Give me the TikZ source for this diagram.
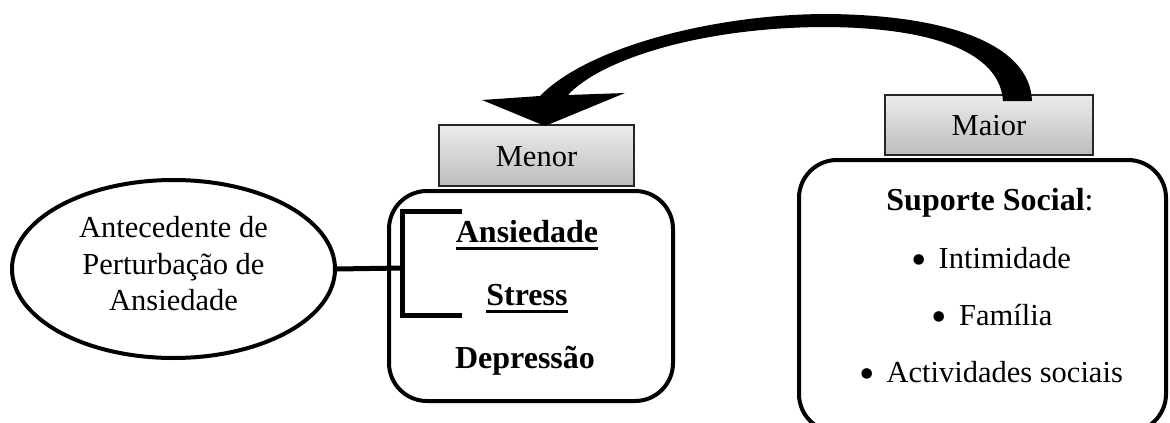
\documentclass[tikz,border=0pt]{standalone}
\usepackage{fontspec}
\setmainfont{Liberation Serif}
\usetikzlibrary{shapes.geometric}
\newcommand{\ulword}[1]{\setbox0\hbox{#1}\leavevmode\rlap{\rule[-7.5pt]{\wd0}{3pt}}\box0}
\newcommand{\bigdot}{{\fontsize{44}{0}\selectfont\raisebox{-6pt}{\textbullet}}\hspace{12pt}}

\begin{document}
\begin{tikzpicture}[x=1pt,y=-1pt]

		\tikzstyle{txt}    = [font=\fontsize{30.5}{36.5}\selectfont, inner sep=0pt, anchor=base]
		\tikzstyle{btxt}   = [font=\fontsize{32}{36.5}\selectfont\bfseries, inner sep=0pt, anchor=base]
		\tikzstyle{bigbox} = [draw, line width=4pt, rounded corners=38pt, inner sep=0pt]
		\tikzstyle{tab}    = [draw=black!85, line width=1.5pt, top color=gray!15, bottom color=gray!52, inner sep=0pt]
		\useasboundingbox (0,0) rectangle (1170,423);

		% boxes
		\node [bigbox, minimum width=284pt, minimum height=210pt](lbox) at (531,296) {};
		\node [bigbox, minimum width=367pt, minimum height=272pt](rbox) at (982.5,296) {};
		\node [tab, minimum width=195pt, minimum height=61pt](menor) at (536.5,155.5) {};
		\node [tab, minimum width=208pt, minimum height=60pt](maior) at (989,125) {};
		\node [ellipse, draw, line width=4pt, minimum width=323pt, minimum height=178pt](ante) at (173.5,269) {};

		% texts
		\node [txt](tmenor) at (536.5,166) {Menor};
		\node [txt](tmaior) at (989,135) {Maior};
		\node [txt, align=center, anchor=center](tante) at (173.5,264) {Antecedente de\\Perturbação de\\Ansiedade};
		\node [btxt](ans) at (527,242) {\ulword{Ansiedade}};
		\node [btxt](str) at (527,305) {\ulword{Stress}};
		\node [btxt](dep) at (525,368) {Depressão};
		\node [btxt](sup) at (990,210) {Suporte Social\mdseries:};
		\node [txt](int) at (991,268) {\bigdot Intimidade};
		\node [txt](fam) at (992,325) {\bigdot Família};
		\node [txt](act) at (991,382) {\bigdot Actividades sociais};

		% bracket
		\coordinate (brm) at (402,268);
		\coordinate (brt) at (462,211);
		\coordinate (brb) at (462,315);
		\draw [line width=5pt] (ante.east) -- (brm);
		\draw [line width=5pt] (brt) -- (brt -| brm) -- (brb -| brm) -- (brb);

		% curved arrow from Maior to Menor
		\fill (1003,101) -- (1032,101) .. controls (1030,45) and (950,15) .. (827,14)
			.. controls (720,14) and (590,45) .. (540,96) -- (482,100) -- (545,126) -- (625,93) -- (568,95)
			.. controls (600,60) and (700,27) .. (827,27)
			.. controls (940,28) and (1000,55) .. (1003,101) -- cycle;

	\end{tikzpicture}
\end{document}
